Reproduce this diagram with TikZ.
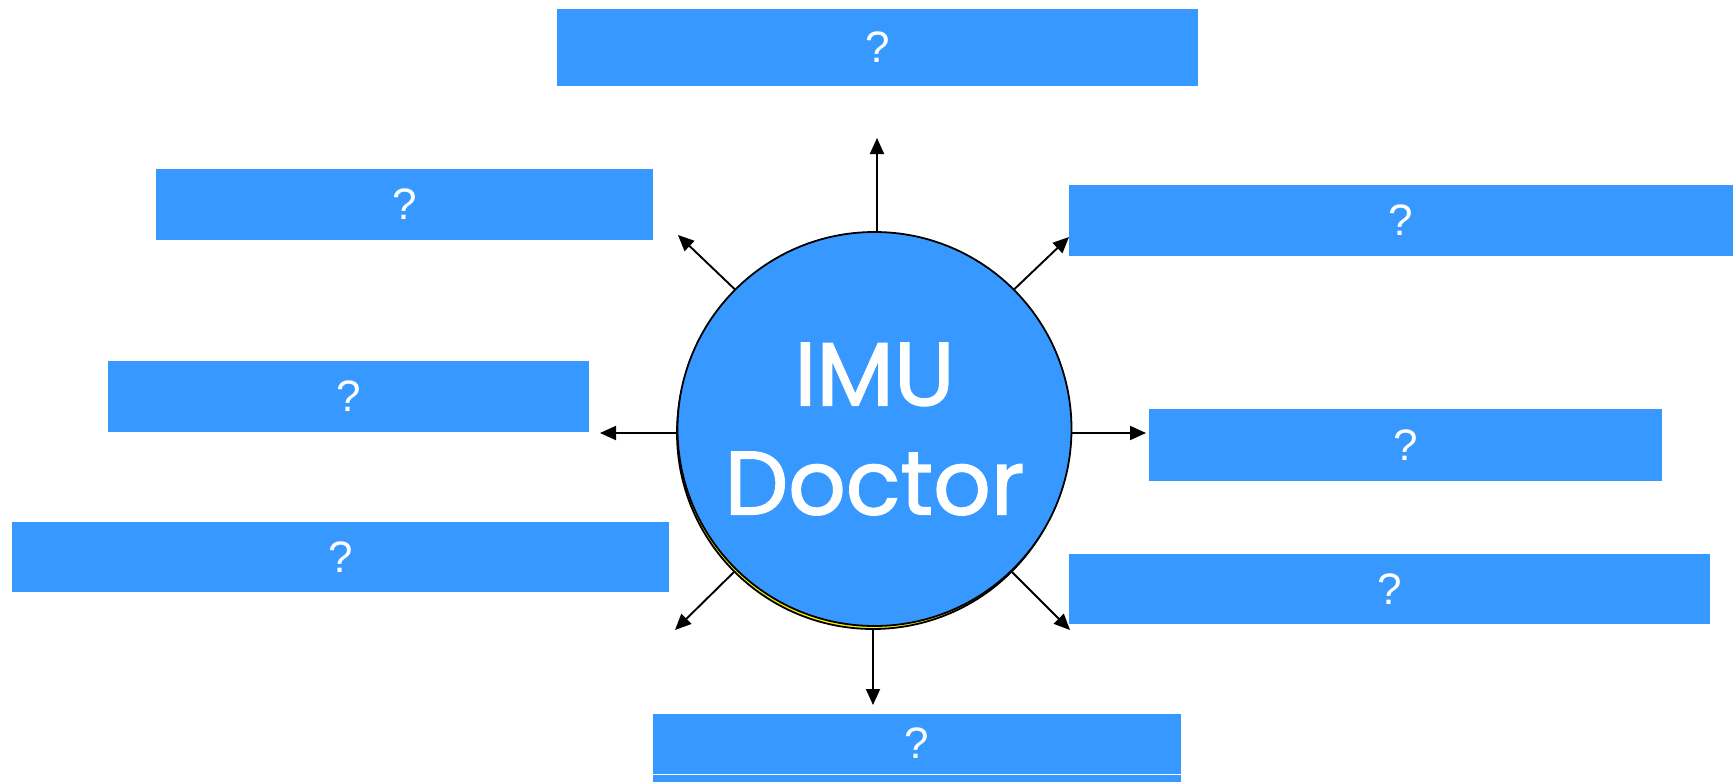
\documentclass[tikz,border=0pt]{standalone}
\usepackage{fontspec}
\setmainfont{Liberation Sans}
\newfontfamily\hubfont{Poppins}[FakeBold=1.5]
\usetikzlibrary{arrows.meta}
\definecolor{boxblue}{RGB}{55,153,255}
\tikzset{
  qbox/.style={rectangle, fill=boxblue, inner sep=0pt, text=white,
    font=\fontsize{44}{44}\selectfont},
  hub/.style={circle, draw=black, line width=1.8pt, fill=boxblue, minimum size=394pt,
    inner sep=0pt, text=white, align=center, font=\hubfont\fontsize{90}{109}\selectfont},
  shade/.style={circle, draw=black, line width=1.8pt, fill=yellow, minimum size=392pt, inner sep=0pt},
  link/.style={line width=1.9pt, -{Triangle[length=16pt,width=14pt]}}
}
\begin{document}
\begin{tikzpicture}[x=1pt,y=-1pt]
\useasboundingbox (0,0) rectangle (1733,782);
% boxes
\node[qbox, minimum width=641pt, minimum height=77pt] (b1) at (877.5,47.5) {?};
\node[qbox, minimum width=497pt, minimum height=71pt] (b2) at (404.5,204.5) {?};
\node[qbox, minimum width=481pt, minimum height=71pt] (b3) at (348.5,396.5) {?};
\node[qbox, minimum width=657pt, minimum height=70pt] (b4) at (340.5,557) {?};
\node[qbox, minimum width=664pt, minimum height=71pt] (b5) at (1401,220.5) {?};
\node[qbox, minimum width=513pt, minimum height=72pt] (b6) at (1405.5,445) {?};
\node[qbox, minimum width=641pt, minimum height=70pt] (b7) at (1389.5,589) {?};
\node[qbox, minimum width=528pt, minimum height=60pt] (b8) at (917,743.5) {?};
\fill[boxblue] (653,775) rectangle (1181,782);
% hub
\node[shade] (s) at (873,433) {};
\node[hub] (c) at (874.5,429) {IMU\\Doctor};
% arrow ends
\coordinate (tN) at (877,138);
\coordinate (tNW) at (678,235);
\coordinate (tNE) at (1069,237);
\coordinate (tW) at (600,433);
\coordinate (tE) at (1146,433);
\coordinate (tSW) at (675,630);
\coordinate (tSE) at (1070,630);
\coordinate (tS) at (873,705);
\draw[link] (c.north) ++(2.5,0) -- (tN);
\draw[link] (c.north west) -- (tNW);
\draw[link] (c.north east) -- (tNE);
\draw[link] (c.west) ++(0,4) -- (tW);
\draw[link] (c.east) ++(0,4) -- (tE);
\draw[link] (s.south west) -- (tSW);
\draw[link] (s.south east) -- (tSE);
\draw[link] (s.south) -- (tS);
\end{tikzpicture}
\end{document}
